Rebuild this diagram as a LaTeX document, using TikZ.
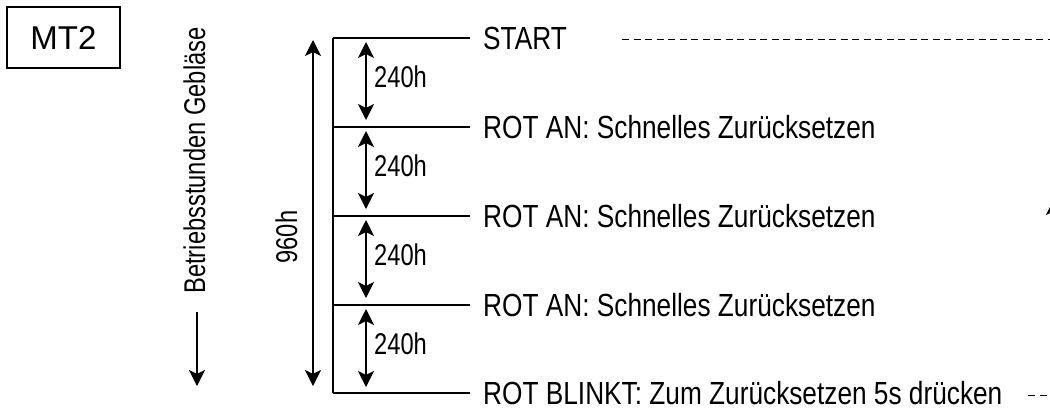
\documentclass[tikz,border=0pt]{standalone}
\usepackage{fontspec}
\setmainfont{Liberation Sans}
\newfontfamily\condA[FakeStretch=0.82]{Liberation Sans}
\newfontfamily\condB[FakeStretch=0.79]{Liberation Sans}
\usetikzlibrary{arrows.meta}
\begin{document}
\begin{tikzpicture}[x=1pt,y=-1pt,
  lab/.style={font=\condA\fontsize{32}{36}\selectfont, inner sep=0pt, anchor=base west},
  hlab/.style={font=\condB\fontsize{30}{34}\selectfont, inner sep=0pt},
  tickline/.style={line width=1.6pt},
  dimarr/.style={line width=1.4pt, {Stealth[length=16pt,width=16pt,inset=4pt]}-{Stealth[length=16pt,width=16pt,inset=4pt]}},
  onearr/.style={line width=1.4pt, -{Stealth[length=16pt,width=16pt,inset=4pt]}},
  dashline/.style={line width=1pt, dash pattern=on 7pt off 4.5pt},
]
\useasboundingbox (0,0) rectangle (1050,408);

% title box
\node[draw, line width=1.3pt, minimum width=113pt, minimum height=61pt, inner sep=0pt,
      font=\fontsize{33}{36}\selectfont] (mt) at (63.5,37.5) {MT2};

% axis label
\node[hlab, rotate=90, anchor=base] (betr) at (205,160.5) {Betriebsstunden Gebläse};
\coordinate (b1) at (197,312);
\coordinate (b2) at (197,386);
\draw[onearr] (b1) -- (b2);

% 960h
\coordinate (d0) at (313,40);
\coordinate (d1) at (313,386);
\draw[dimarr] (d0) -- (d1);
\node[hlab, rotate=90, anchor=base] (tot) at (297,237) {960h};

% levels
\foreach \i/\yy in {0/38,1/127,2/216,3/305,4/393}{
  \coordinate (L\i) at (333,\yy);
  \coordinate (R\i) at (470,\yy);
  \draw[tickline] (L\i) -- (R\i);
}
\draw[tickline] (L0) -- (L4);

\node[lab] (t0) at (483,49) {START};
\node[lab] (t1) at (483,138) {ROT AN: Schnelles Zurücksetzen};
\node[lab] (t2) at (483,227) {ROT AN: Schnelles Zurücksetzen};
\node[lab] (t3) at (483,316) {ROT AN: Schnelles Zurücksetzen};
\node[lab] (t4) at (483,404) {ROT BLINKT: Zum Zurücksetzen 5s drücken};

% 240h intervals
\foreach \i/\j/\yy in {0/1/38,1/2/127,2/3/216,3/4/305}{
  \coordinate (a\i) at (366,\yy+4);
  \coordinate (e\i) at (366,\yy+82);
  \draw[dimarr] (a\i) -- (e\i);
  \node[hlab, anchor=base west] (h\i) at (374,\yy+49) {240h};
}

% dashed continuations
\coordinate (p0) at (622,39);
\coordinate (p1) at (1052,39);
\draw[dashline] (p0) -- (p1);
\coordinate (q0) at (1028,395);
\coordinate (q1) at (1052,395);
\draw[dashline] (q0) -- (q1);

% partial arrow at the right edge
\coordinate (r0) at (1054,270);
\coordinate (r1) at (1054,199);
\draw[onearr] (r0) -- (r1);
\end{tikzpicture}
\end{document}
